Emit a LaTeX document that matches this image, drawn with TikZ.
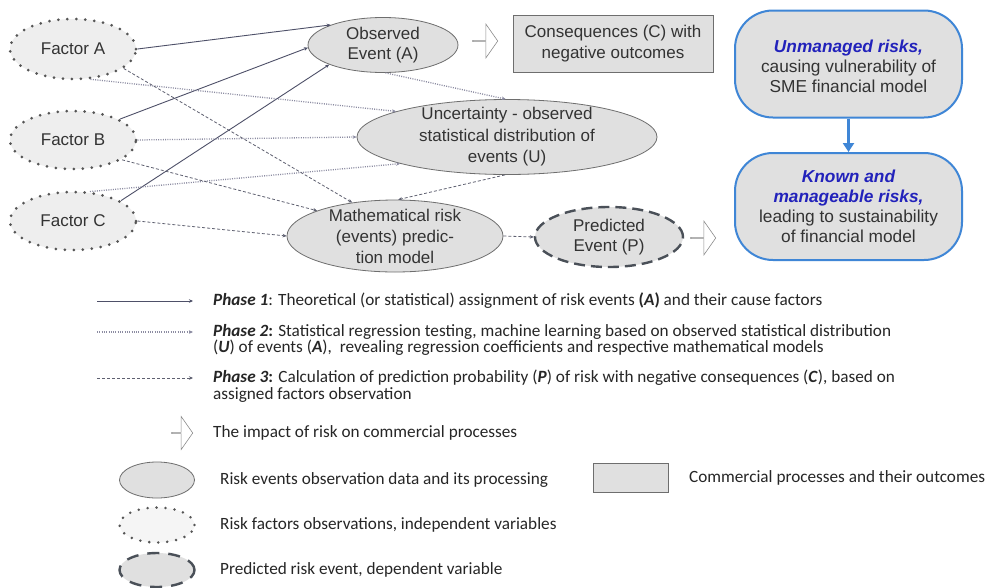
\documentclass[tikz,border=0pt]{standalone}
\usepackage{fontspec}
\setmainfont{Liberation Sans}
\newfontfamily\legfont{Carlito}
\usetikzlibrary{shapes.geometric,shapes.arrows,arrows.meta}
\definecolor{facfill}{HTML}{EEEEEE}
\definecolor{evfill}{HTML}{E0E0E0}
\definecolor{evdraw}{HTML}{6E6E6E}
\definecolor{dotcol}{HTML}{555555}
\definecolor{pone}{HTML}{4E5068}
\definecolor{ptwo}{HTML}{8C8CA2}
\definecolor{pthree}{HTML}{5E6070}
\definecolor{preddraw}{HTML}{4A5058}
\definecolor{bluedraw}{HTML}{3F86D6}
\definecolor{bluetext}{HTML}{2222BB}
\definecolor{txt}{HTML}{333333}
\tikzset{
  ntext/.style={text=txt, align=center, inner sep=0pt, font=\fontsize{17}{20.5}\selectfont},
  factor/.style={ellipse, minimum width=126pt, minimum height=60pt, inner sep=0pt,
    fill=facfill, draw=dotcol, line width=3pt, dash pattern=on 0pt off 9pt, line cap=round},
  event/.style={ellipse, inner sep=0pt, fill=evfill, draw=evdraw, line width=0.8pt},
  predev/.style={ellipse, inner sep=0pt, fill=evfill, draw=preddraw, line width=2.4pt,
    dash pattern=on 11pt off 6pt},
  combox/.style={rectangle, inner sep=0pt, fill=evfill, draw=evdraw, line width=0.8pt},
  bluebox/.style={rectangle, rounded corners=38pt, inner sep=0pt, minimum width=227pt,
    minimum height=107pt, fill=evfill, draw=bluedraw, line width=2pt},
  blockarrow/.style={single arrow, draw=evdraw!80, fill=white, line width=0.6pt, inner sep=0pt,
    minimum height=25pt, minimum width=34pt, single arrow head extend=8pt,
    single arrow tip angle=110},
  phaseone/.style={draw=pone, line width=0.9pt, -{Stealth[length=4pt,width=3.5pt]}},
  phasetwo/.style={draw=ptwo, line width=1.3pt, dash pattern=on 1pt off 1.3pt, -{Stealth[length=4pt,width=3.5pt]}},
  phasethree/.style={draw=pthree, line width=0.8pt, dash pattern=on 3pt off 2pt, -{Stealth[length=4pt,width=3.5pt]}},
  legtext/.style={anchor=west, align=left, inner sep=0pt, text=black!85,
    font=\legfont\fontsize{17.2}{16.5}\selectfont},
  bt/.style={font=\fontsize{17.3}{20}\selectfont\bfseries\itshape, text=bluetext, align=center, inner sep=0pt},
  gt/.style={font=\fontsize{17.3}{20}\selectfont, text=txt, align=center, inner sep=0pt}
}
\begin{document}
\begin{tikzpicture}[x=1pt,y=-1pt]
\useasboundingbox (0,0) rectangle (985,587);
\fill[white] (0,0) rectangle (985,587);

% factors
\node[factor] (fa) at (73,49) {};
\node[factor, minimum height=58pt] (fb) at (73,140) {};
\node[factor, minimum height=58pt] (fc) at (73,221) {};
\node[ntext] (fat) at (fa) {Factor A};
\node[ntext] (fbt) at (fb) {Factor B};
\node[ntext] (fct) at (fc) {Factor C};

% events
\node[event, minimum width=150pt, minimum height=55pt] (obs) at (383,45) {};
\node[ntext] (obst) at (obs) {Observed\\Event (A)};
\node[event, minimum width=300pt, minimum height=75pt] (unc) at (507,137) {};
\node[ntext, font=\fontsize{17}{21.5}\selectfont] (unct) at (unc) {Uncertainty - observed\\statistical distribution of\\events (U)};
\node[event, minimum width=216pt, minimum height=72pt] (math) at (395,236) {};
\node[ntext, font=\fontsize{17}{21}\selectfont] (matht) at (math) {Mathematical risk\\(events) predic-\\tion model};
\node[predev, minimum width=148pt, minimum height=60pt] (pred) at (609,237) {};
\node[ntext] (predt) at (pred) {Predicted\\Event (P)};

% commercial box
\node[combox, minimum width=200pt, minimum height=57pt] (cons) at (613,43.5) {};
\node[ntext] (const) at (cons) {Consequences (C) with\\negative outcomes};

% block arrows
\node[blockarrow] (ar1) at (485,41) {};
\node[blockarrow] (ar2) at (703,238) {};

% blue boxes
\node[bluebox] (unm) at (848.5,64) {};
\node[bt, anchor=base] (unm1) at (848.5,52) {Unmanaged risks,};
\node[gt, anchor=base] (unm2) at (848.5,72) {causing vulnerability of};
\node[gt, anchor=base] (unm3) at (848.5,92) {SME financial model};
\node[bluebox] (kn) at (848.5,206.5) {};
\node[bt, anchor=base] (kn1) at (848.5,182) {Known and};
\node[bt, anchor=base] (kn2) at (848.5,202) {manageable risks,};
\node[gt, anchor=base] (kn3) at (848.5,222) {leading to sustainability};
\node[gt, anchor=base] (kn4) at (848.5,242) {of financial model};
\draw[bluedraw, line width=2.4pt, -{Triangle[length=9pt,width=11pt]}] (unm.south) -- (kn.north);

% phase 1 connectors
\draw[phaseone] (fa.east) -- (obs.159);
\draw[phaseone] (fb.24) -- (obs.182);
\draw[phaseone] (fc.23) -- (obs.200);

% phase 2 connectors
\draw[phasetwo] (fa.300) -- (unc.167);
\draw[phasetwo] (fb.east) -- (unc.west);
\draw[phasetwo] (fc.60) -- (unc.194);
\draw[phasetwo] (obs.275) -- (unc.92);

% phase 3 connectors
\draw[phasethree] (fa.339) -- (math.142);
\draw[phasethree] (fb.338) -- (math.162);
\draw[phasethree] (fc.east) -- (math.west);
\draw[phasethree] (unc.267) -- (math.85);
\draw[phasethree] (math.east) -- (pred.west);

% legend
\coordinate (l1a) at (97,301); \coordinate (l1b) at (193,301);
\coordinate (l2a) at (97,332); \coordinate (l2b) at (193,332);
\coordinate (l3a) at (97,378); \coordinate (l3b) at (193,378);
\draw[phaseone] (l1a) -- (l1b);
\draw[phasetwo] (l2a) -- (l2b);
\draw[phasethree] (l3a) -- (l3b);
\node[legtext] (t1) at (213,301) {\textbf{\textit{Phase 1}}: Theoretical (or statistical) assignment of risk events \textbf{(\textit{A})} and their cause factors};
\node[legtext] (t2) at (213,340) {\textbf{\textit{Phase 2}:} Statistical regression testing, machine learning based on observed statistical distribution\\(\textbf{\textit{U}}) of events (\textbf{\textit{A}}), \ revealing regression coefficients and respective mathematical models};
\node[legtext, font=\legfont\fontsize{17.2}{17}\selectfont] (t3) at (213,386.5) {\textbf{\textit{Phase 3}:} Calculation of prediction probability (\textbf{\textit{P}}) of risk with negative consequences (\textbf{\textit{C}}), based on\\assigned factors observation};
\node[blockarrow, minimum height=21pt, minimum width=33pt, single arrow head extend=7pt] (lar) at (182,433) {};
\node[legtext] (t4) at (213,433) {The impact of risk on commercial processes};
\node[event, minimum width=75pt, minimum height=36pt] (lev) at (157,480) {};
\node[legtext] (t5) at (220,480) {Risk events observation data and its processing};
\node[combox, minimum width=75pt, minimum height=29pt] (lbox) at (630.5,477.5) {};
\node[legtext] (t6) at (689,478) {Commercial processes and their outcomes};
\node[factor, minimum width=75pt, minimum height=35pt, fill=facfill!60, dash pattern=on 0pt off 9pt, line width=2.8pt] (lfac) at (157,525) {};
\node[legtext] (t7) at (220,525) {Risk factors observations, independent variables};
\node[predev, minimum width=75pt, minimum height=34pt, dash pattern=on 12pt off 9pt] (lpred) at (157,570) {};
\node[legtext] (t8) at (220,570) {Predicted risk event, dependent variable};
\end{tikzpicture}
\end{document}
